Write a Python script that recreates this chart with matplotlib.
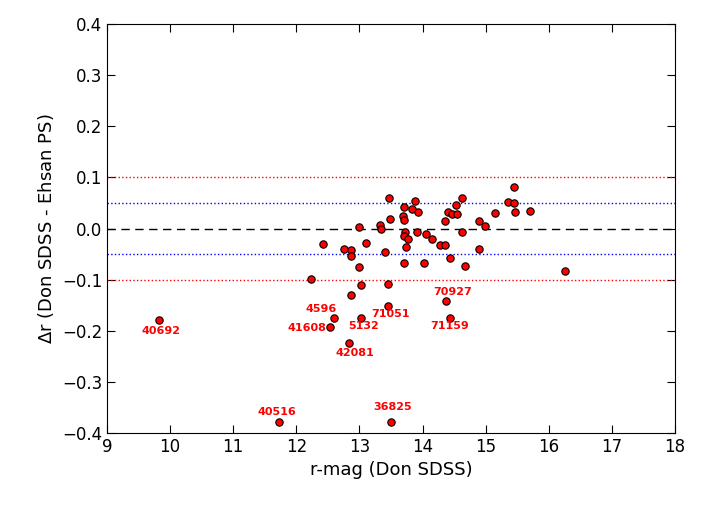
import numpy as np
import matplotlib.pyplot as plt

rmag = [12.23, 12.43, 12.76, 12.86, 12.86, 13.00, 13.10, 13.00, 13.02, 12.86,
        12.59, 12.53, 12.84, 13.02, 13.45, 13.45, 13.40, 13.32, 13.34, 13.48,
        13.47, 13.70, 13.69, 13.71, 13.72, 13.70, 13.77, 13.73, 13.70, 13.83,
        13.88, 13.92, 13.91, 14.05, 14.02, 14.15, 14.27, 14.35, 14.35, 14.40,
        14.46, 14.54, 14.53, 14.62, 14.62, 14.43, 14.67, 14.37, 14.43, 14.89,
        14.99, 14.89, 15.15, 15.36, 15.45, 15.45, 15.47, 15.70, 16.25,
        9.83, 11.73, 13.50]
dr = [-0.098, -0.030, -0.041, -0.043, -0.054, 0.002, -0.028, -0.075, -0.110, -0.131,
      -0.176, -0.193, -0.223, -0.176, -0.151, -0.108, -0.045, 0.006, 0.000, 0.019,
      0.060, 0.043, 0.025, 0.017, -0.006, -0.014, -0.020, -0.036, -0.067, 0.039,
      0.054, 0.033, -0.006, -0.010, -0.067, -0.020, -0.032, -0.032, 0.015, 0.033,
      0.029, 0.029, 0.045, 0.060, -0.006, -0.057, -0.073, -0.141, -0.176, 0.015,
      0.005, -0.041, 0.031, 0.052, 0.049, 0.082, 0.033, 0.035, -0.083,
      -0.179, -0.378, -0.378]

# labelled outliers: (name, index into the arrays, text offset in pixels)
labels = ['40692', '40516', '36825', '4596', '41608', '42081', '5132', '71051', '70927', '71159']
label_idx = [59, 60, 61, 10, 11, 12, 13, 14, 47, 48]
offsets = [(2, -11), (-2, 10), (2, 15), (-12, 9), (-23, -1), (6, -10), (3, -8), (3, -8), (7, 9), (0, -8)]

fig, ax = plt.subplots(figsize=(7.1, 5.09), dpi=100)
fig.subplots_adjust(left=107/710, right=675/710, top=1-24/509, bottom=1-433/509)

for y, c in [(0.1, 'red'), (0.05, 'blue'), (-0.05, 'blue'), (-0.1, 'red')]:
    ax.axhline(y, color=c, linestyle=':', linewidth=1)
ax.axhline(0, color='black', linestyle='--', linewidth=1, dashes=(6, 4))

ax.scatter(rmag, dr, s=28, color='red', edgecolor='black', linewidth=0.8, zorder=3)

for name, i, off in zip(labels, label_idx, offsets):
    ax.annotate(name, (rmag[i], dr[i]), xytext=off, textcoords='offset pixels',
                ha='center', va='center', color='red', fontsize=8,
                fontweight='bold')

ax.set_xlim(9, 18)
ax.set_ylim(-0.4, 0.4)
ax.set_xticks(np.arange(9, 19, 1))
ax.set_yticks(np.arange(-0.4, 0.41, 0.1))
ax.tick_params(direction='in', top=True, right=True, labelsize=12, length=6)
ax.set_xlabel('r-mag (Don SDSS)', fontsize=13)
ax.set_ylabel(r'$\Delta$r (Don SDSS - Ehsan PS)', fontsize=13)

plt.savefig('out.png')
